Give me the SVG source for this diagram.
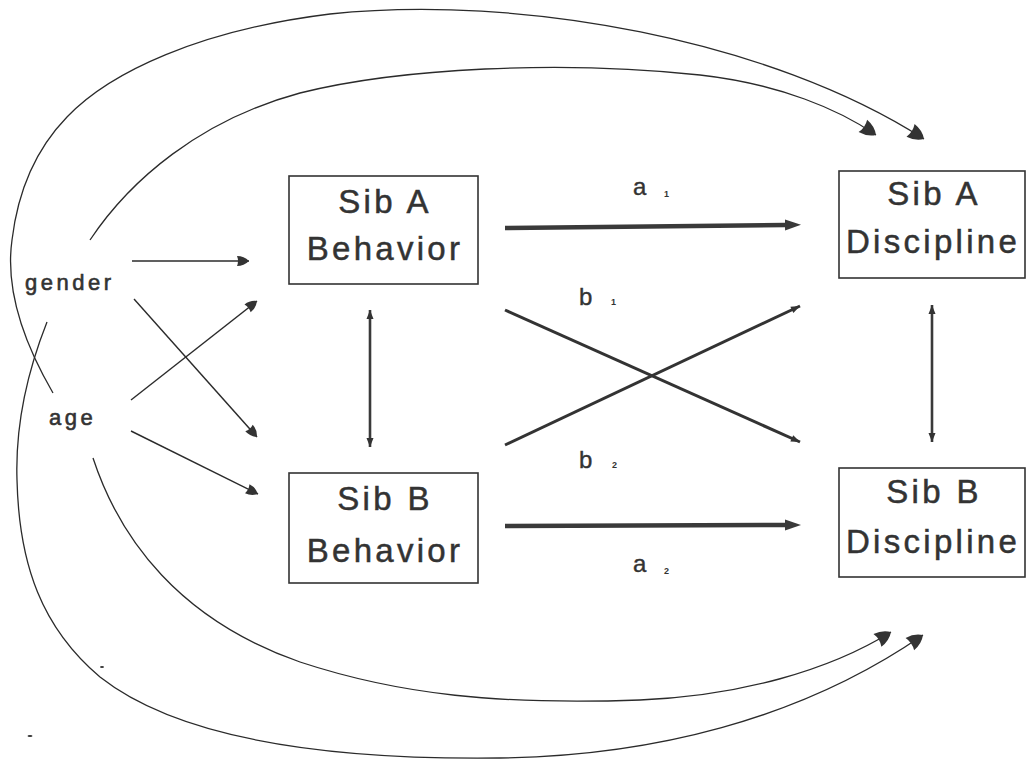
<svg xmlns="http://www.w3.org/2000/svg" width="1029" height="761" viewBox="0 0 1029 761">
  <style>
    .box { fill: #fff; stroke: #333; stroke-width: 1.6; }
    .lbl { font-family: "Liberation Sans", Arial, sans-serif; font-size: 33px; letter-spacing: 3.3px; fill: #333; stroke: #333; stroke-width: 0.5; text-anchor: middle; }
    .var { font-family: "Liberation Sans", Arial, sans-serif; font-size: 22px; letter-spacing: 3.5px; fill: #333; stroke: #333; stroke-width: 0.6; }
    .coef { font-family: "Liberation Sans", Arial, sans-serif; font-size: 24px; fill: #333; stroke: #333; stroke-width: 0.4; }
    .sub { font-family: "Liberation Sans", Arial, sans-serif; font-size: 9px; font-weight: bold; fill: #333; }
    .thin { fill: none; stroke: #2b2b2b; stroke-width: 1.4; }
    .curve { fill: none; stroke: #2b2b2b; stroke-width: 1.3; }
    .bold { fill: none; stroke: #3a3a3a; stroke-width: 4.5; }
    .cross { fill: none; stroke: #333; stroke-width: 3; }
    .dbl { fill: none; stroke: #3a3a3a; stroke-width: 2.6; }
  </style>
  <defs>
    <!-- rounded ink-blot head for the thin predictor arrows -->
    <marker id="blob" markerUnits="userSpaceOnUse" viewBox="-2 -8 18 16" markerWidth="18" markerHeight="16" refX="12" refY="0" orient="auto">
      <path d="M0,-5 Q7,-5 12,0 Q7,5 0,5 Q2,0 0,-5 Z" fill="#333"/>
    </marker>
    <!-- larger head for the long curved paths -->
    <marker id="blobBig" markerUnits="userSpaceOnUse" viewBox="-2 -10 22 20" markerWidth="22" markerHeight="20" refX="16" refY="0" orient="auto">
      <path d="M0,-7.5 Q10,-6.5 16,0 Q10,6.5 0,7.5 Q3,0 0,-7.5 Z" fill="#333"/>
    </marker>
    <!-- triangular head for the heavy paths a1/a2 -->
    <marker id="tri" markerUnits="userSpaceOnUse" viewBox="0 -7 18 14" markerWidth="18" markerHeight="14" refX="0" refY="0" orient="auto">
      <path d="M0,-5.5 L16,0 L0,5.5 Z" fill="#3a3a3a"/>
    </marker>
    <!-- small head for cross paths and correlations -->
    <marker id="small" markerUnits="userSpaceOnUse" viewBox="-1 -5 12 10" markerWidth="12" markerHeight="10" refX="9" refY="0" orient="auto-start-reverse">
      <path d="M0,-3.5 L9,0 L0,3.5 Z" fill="#333"/>
    </marker>
  </defs>

  <g id="connectors">
    <!-- gender / age to behaviours -->
    <line class="thin" x1="132" y1="261" x2="249" y2="261" marker-end="url(#blob)"/>
    <line class="thin" x1="134" y1="299" x2="257" y2="437" marker-end="url(#blob)"/>
    <line class="thin" x1="131" y1="400" x2="257" y2="301" marker-end="url(#blob)"/>
    <line class="thin" x1="131" y1="431" x2="258" y2="494" marker-end="url(#blob)"/>

    <!-- gender / age to disciplines (long curves) -->
    <path class="curve" d="M53,393 C25,345 5,290 12,240 C18,190 35,150 67,117 C110,72 200,30 330,14 C520,-6 770,40 924,139" marker-end="url(#blobBig)"/>
    <path class="curve" d="M90,240 C130,180 200,120 300,93 C400,68 560,60 700,75 C780,84 840,110 876,135" marker-end="url(#blobBig)"/>
    <path class="curve" d="M47,322 C30,365 15,420 17,480 C19,565 42,628 100,677 C180,740 330,760 500,758 C650,756 800,720 923,635" marker-end="url(#blobBig)"/>
    <path class="curve" d="M93,458 C120,540 180,620 300,662 C400,695 500,705 640,700 C740,696 830,670 891,632" marker-end="url(#blobBig)"/>

    <!-- behaviour to discipline paths -->
    <line class="bold" x1="505" y1="228" x2="785" y2="225" marker-end="url(#tri)"/>
    <line class="bold" x1="505" y1="526" x2="785" y2="525" marker-end="url(#tri)"/>
    <line class="cross" x1="505" y1="310" x2="800" y2="442" marker-end="url(#small)"/>
    <line class="cross" x1="505" y1="445" x2="800" y2="306" marker-end="url(#small)"/>

    <!-- sibling correlations -->
    <line class="dbl" x1="370" y1="310" x2="370" y2="447" marker-start="url(#small)" marker-end="url(#small)"/>
    <line class="dbl" x1="932" y1="305" x2="932" y2="442" marker-start="url(#small)" marker-end="url(#small)"/>

    <!-- path coefficients -->
    <text class="coef" x="633" y="195">a</text><text class="sub" x="664" y="197">1</text>
    <text class="coef" x="579" y="305">b</text><text class="sub" x="611" y="305">1</text>
    <text class="coef" x="579" y="468">b</text><text class="sub" x="612" y="468">2</text>
    <text class="coef" x="633" y="572">a</text><text class="sub" x="664" y="574">2</text>
  </g>

  <g id="gender"><text class="var" x="25" y="290">gender</text></g>
  <g id="age"><text class="var" x="49" y="425">age</text></g>

  <g id="sibA-behavior">
    <rect class="box" x="289" y="176" width="189" height="108"/>
    <text class="lbl" x="385" y="213">Sib A</text>
    <text class="lbl" x="385" y="260">Behavior</text>
  </g>
  <g id="sibB-behavior">
    <rect class="box" x="289" y="473" width="189" height="110"/>
    <text class="lbl" x="385" y="510">Sib B</text>
    <text class="lbl" x="385" y="562">Behavior</text>
  </g>
  <g id="sibA-discipline">
    <rect class="box" x="839" y="171" width="186" height="107"/>
    <text class="lbl" x="934" y="205">Sib A</text>
    <text class="lbl" x="933" y="253">Discipline</text>
  </g>
  <g id="sibB-discipline">
    <rect class="box" x="839" y="468" width="186" height="109"/>
    <text class="lbl" x="934" y="503">Sib B</text>
    <text class="lbl" x="933" y="553">Discipline</text>
  </g>

  <!-- stray marks -->
  <ellipse cx="102" cy="667" rx="2" ry="1" fill="#333"/>
  <ellipse cx="30" cy="736" rx="2.5" ry="1" fill="#333"/>
</svg>
